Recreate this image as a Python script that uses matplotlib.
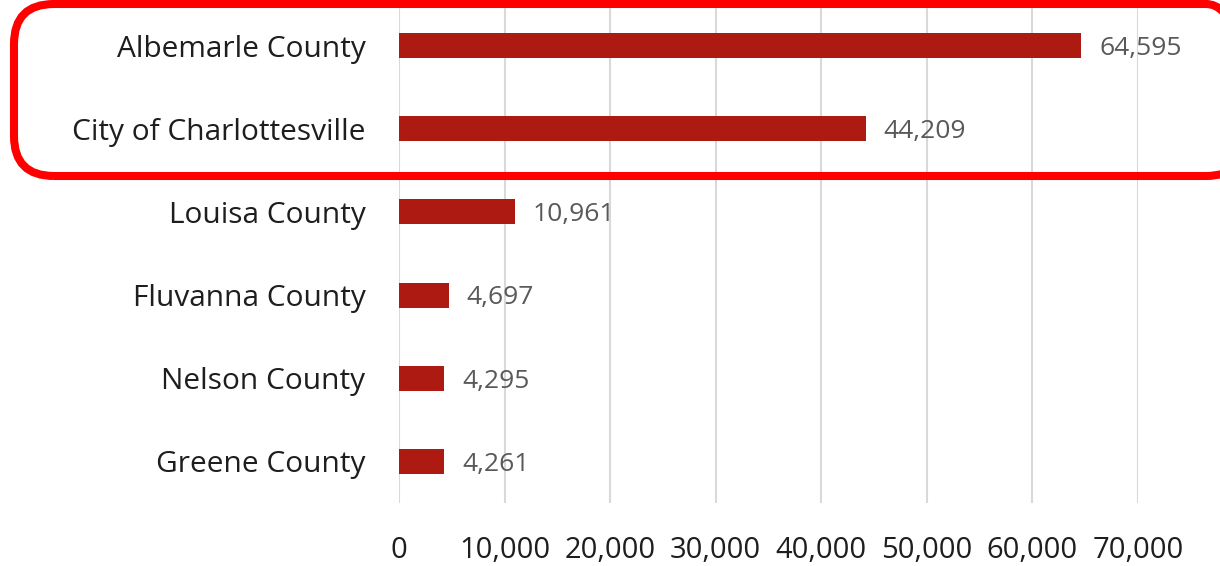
import matplotlib.pyplot as plt
from matplotlib.patches import FancyBboxPatch
from matplotlib.transforms import IdentityTransform
from matplotlib.ticker import FuncFormatter

# data
localities = ["Albemarle County", "City of Charlottesville", "Louisa County",
              "Fluvanna County", "Nelson County", "Greene County"]
workers = [64595, 44209, 10961, 4697, 4295, 4261]
x_ticks = [0, 10000, 20000, 30000, 40000, 50000, 60000, 70000]

plt.rcParams['font.family'] = ['Open Sans', 'DejaVu Sans']

fig = plt.figure(figsize=(12.2, 5.66), dpi=100)
ax = fig.add_axes([0.327, 0.1113, 0.6058, 0.8817])

ypos = list(range(len(localities)))
ax.barh(ypos, workers, height=0.30, color="#AD1A12", zorder=3)

for y, v in zip(ypos, workers):
    ax.annotate(f"{v:,}", xy=(v, y), xytext=(13, -2), textcoords="offset points",
                ha="left", va="center", fontsize=19, color="#595959")

ax.set_yticks(ypos)
ax.set_yticklabels(localities, fontsize=21.5, color="#1E1E1E")
ax.set_ylim(len(localities) - 0.5, -0.5)

ax.set_xlim(0, 70000)
ax.set_xticks(x_ticks)
ax.xaxis.set_major_formatter(FuncFormatter(lambda v, p: f"{int(v):,}"))
ax.tick_params(axis="x", labelsize=21, labelcolor="#1E1E1E", length=0, pad=24)
ax.tick_params(axis="y", length=0, pad=24)

ax.grid(axis="x", color="#D9D9D9", linewidth=1.5, zorder=0)
for s in ax.spines.values():
    s.set_visible(False)

# red highlight around the first two rows (pixel coords)
box = FancyBboxPatch((14, 390), 1232, 172,
                     boxstyle="round,pad=0,rounding_size=40",
                     transform=IdentityTransform(), fill=False,
                     edgecolor="#FF0000", linewidth=5.8, clip_on=False, zorder=10)
fig.add_artist(box)

fig.savefig("out.png", dpi=100)
